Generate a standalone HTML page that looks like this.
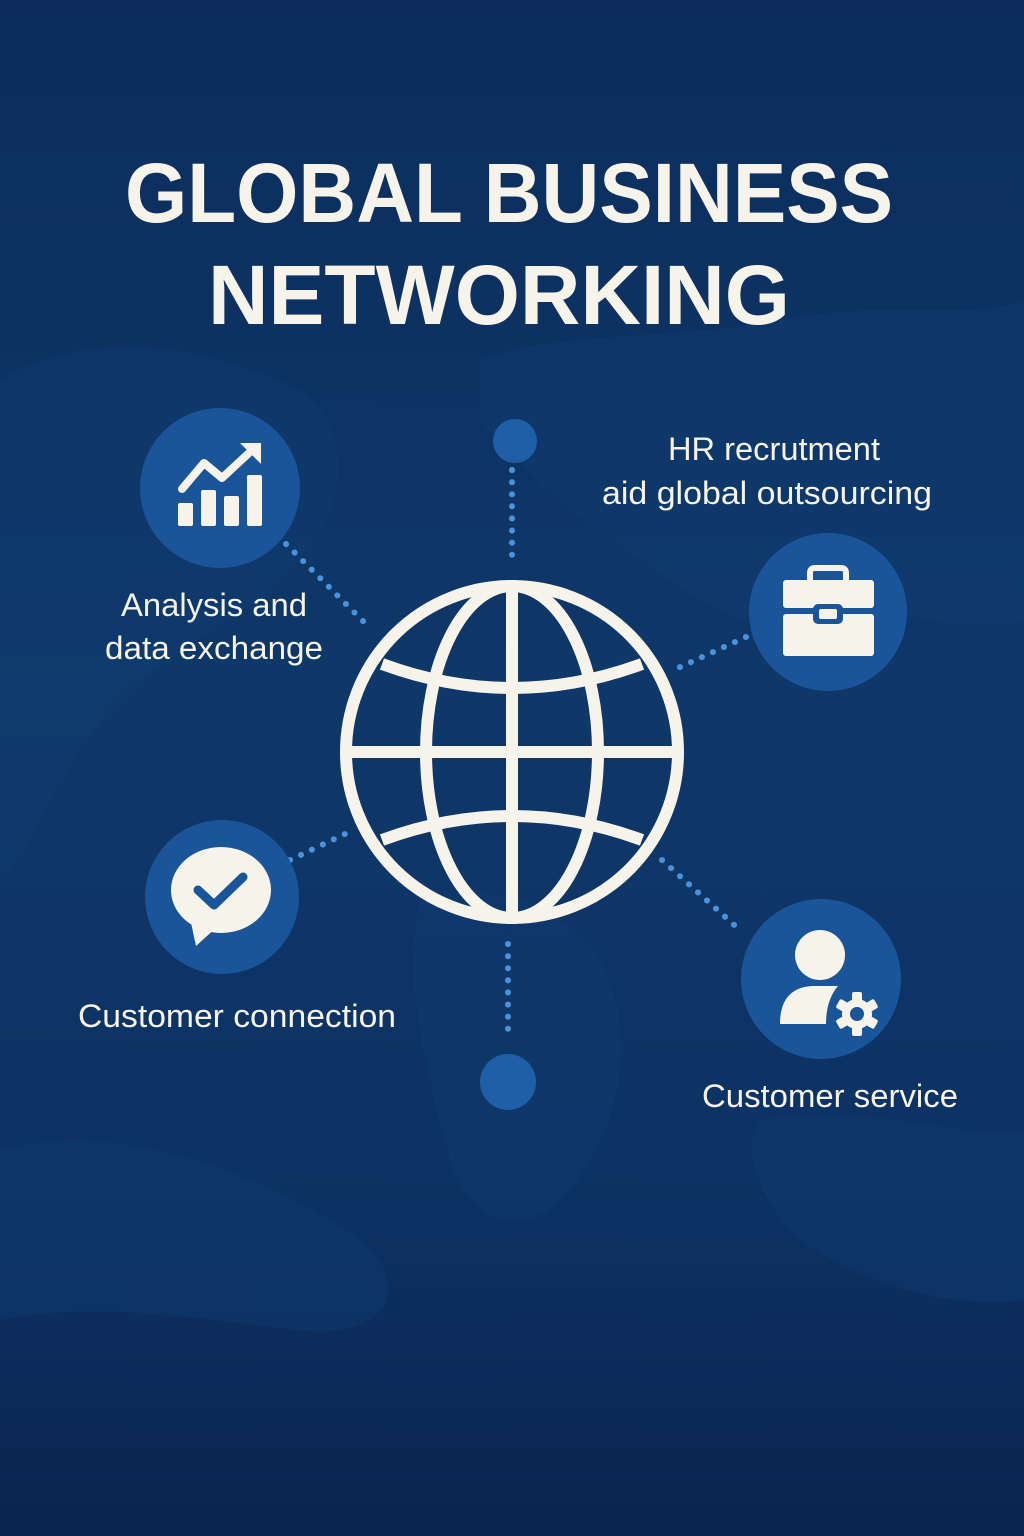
<!DOCTYPE html>
<html><head><meta charset="utf-8"><style>
html,body{margin:0;padding:0;}
body{width:1024px;height:1536px;overflow:hidden;background:#0d3366;}
svg{display:block;}
text{font-family:"Liberation Sans",sans-serif;fill:#f6f3ea;}
</style></head><body>
<svg width="1024" height="1536" viewBox="0 0 1024 1536">
<defs>
<linearGradient id="bg" x1="0" y1="0" x2="0" y2="1">
<stop offset="0" stop-color="#0c2d5c"/>
<stop offset="0.45" stop-color="#0e3869"/>
<stop offset="0.8" stop-color="#0d3162"/>
<stop offset="1" stop-color="#0a2450"/>
</linearGradient>
</defs>
<rect width="1024" height="1536" fill="url(#bg)"/>
<g fill="#123f75" opacity="0.35">
<path d="M0 380 C80 330 200 340 300 390 C360 430 340 520 300 560 C250 620 180 640 120 700 C60 760 30 860 0 880 Z"/>
<path d="M480 360 C560 330 680 340 780 320 C880 300 980 320 1024 300 L1024 620 C960 640 900 600 840 620 C760 650 700 600 640 560 C580 520 520 470 480 420 Z"/>
<path d="M420 900 C480 880 560 900 600 960 C640 1040 620 1140 560 1200 C520 1240 470 1220 450 1160 C430 1080 400 980 420 900 Z"/>
<path d="M0 1150 C120 1120 260 1170 360 1240 C420 1290 380 1340 300 1330 C200 1320 100 1300 0 1320 Z"/>
<path d="M760 1120 C860 1100 960 1140 1024 1130 L1024 1300 C940 1310 860 1280 800 1240 C760 1200 740 1150 760 1120 Z"/>
</g>
<text x="509" y="222" font-size="84" font-weight="bold" text-anchor="middle" textLength="768" lengthAdjust="spacingAndGlyphs">GLOBAL BUSINESS</text>
<text x="499" y="324" font-size="84" font-weight="bold" text-anchor="middle" textLength="582" lengthAdjust="spacingAndGlyphs">NETWORKING</text>

<g stroke="#4a93dc" stroke-width="6" stroke-linecap="round" stroke-dasharray="0.1 12" fill="none">
<line x1="286" y1="544" x2="370" y2="628"/>
<line x1="512" y1="470" x2="512" y2="556"/>
<line x1="746" y1="637" x2="678" y2="668"/>
<line x1="290" y1="860" x2="345" y2="834"/>
<line x1="662" y1="860" x2="742" y2="932"/>
<line x1="508" y1="944" x2="508" y2="1032"/>
</g>

<circle cx="515" cy="441" r="22" fill="#1f5fa8"/>
<circle cx="508" cy="1082" r="28" fill="#1f5fa8"/>
<circle cx="220" cy="488" r="80" fill="#1a5599"/>
<circle cx="828" cy="612" r="79" fill="#1a5599"/>
<circle cx="222" cy="897" r="77" fill="#1a5599"/>
<circle cx="821" cy="979" r="80" fill="#1a5599"/>

<g stroke="#f6f3ea" stroke-width="12" fill="none">
<circle cx="512" cy="752" r="166"/>
<ellipse cx="512" cy="752" rx="86" ry="166"/>
<line x1="512" y1="586" x2="512" y2="918"/>
<line x1="346" y1="752" x2="678" y2="752"/>
<path d="M382 664 Q512 712 642 664"/>
<path d="M382 840 Q512 792 642 840"/>
</g>

<g fill="#f6f3ea">
<rect x="178" y="503" width="15" height="23" rx="2"/>
<rect x="201" y="490" width="15" height="36" rx="2"/>
<rect x="224" y="496" width="15" height="30" rx="2"/>
<rect x="247" y="475" width="15" height="51" rx="2"/>
<path d="M182 489 L204 463 L222 478 L250 452" stroke="#f6f3ea" stroke-width="8" fill="none" stroke-linecap="round" stroke-linejoin="round"/>
<path d="M240 443 L261 443 L261 464 Z"/>
</g>

<g fill="#f6f3ea">
<path d="M810 582 L810 573 Q810 568 815 568 L841 568 Q846 568 846 573 L846 582" stroke="#f6f3ea" stroke-width="6" fill="none"/>
<rect x="783" y="580" width="91" height="28" rx="3"/>
<rect x="783" y="614" width="91" height="42" rx="3"/>
<rect x="813" y="604" width="30" height="20" rx="5" fill="#1a5599"/>
<rect x="819" y="609" width="18" height="10" rx="2"/>
</g>

<g fill="#f6f3ea">
<ellipse cx="221" cy="890" rx="50" ry="43"/>
<path d="M190 918 L196 946 L218 926 Z"/>
<path d="M198 890 L214 905 L243 877" stroke="#1a5599" stroke-width="9" fill="none" stroke-linecap="round" stroke-linejoin="round"/>
</g>

<g fill="#f6f3ea">
<circle cx="820" cy="955" r="25"/>
<path d="M780 1024 Q780 988 812 986 L838 986 Q826 1000 826 1024 Z"/>
<g transform="translate(857,1014)">
<circle r="15"/>
<rect x="-5" y="-22" width="10" height="44" rx="2"/>
<rect x="-5" y="-22" width="10" height="44" rx="2" transform="rotate(60)"/>
<rect x="-5" y="-22" width="10" height="44" rx="2" transform="rotate(120)"/>
<circle r="7" fill="#1a5599"/>
</g>
</g>

<g font-size="32">
<text x="214" y="616" text-anchor="middle" textLength="186" lengthAdjust="spacingAndGlyphs">Analysis and</text>
<text x="214" y="659" text-anchor="middle" textLength="218" lengthAdjust="spacingAndGlyphs">data exchange</text>
<text x="774" y="460" text-anchor="middle" textLength="212" lengthAdjust="spacingAndGlyphs">HR recrutment</text>
<text x="767" y="504" text-anchor="middle" textLength="330" lengthAdjust="spacingAndGlyphs">aid global outsourcing</text>
<text x="237" y="1027" text-anchor="middle" textLength="318" lengthAdjust="spacingAndGlyphs">Customer connection</text>
<text x="830" y="1107" text-anchor="middle" textLength="256" lengthAdjust="spacingAndGlyphs">Customer service</text>
</g>
</svg>
</body></html>
